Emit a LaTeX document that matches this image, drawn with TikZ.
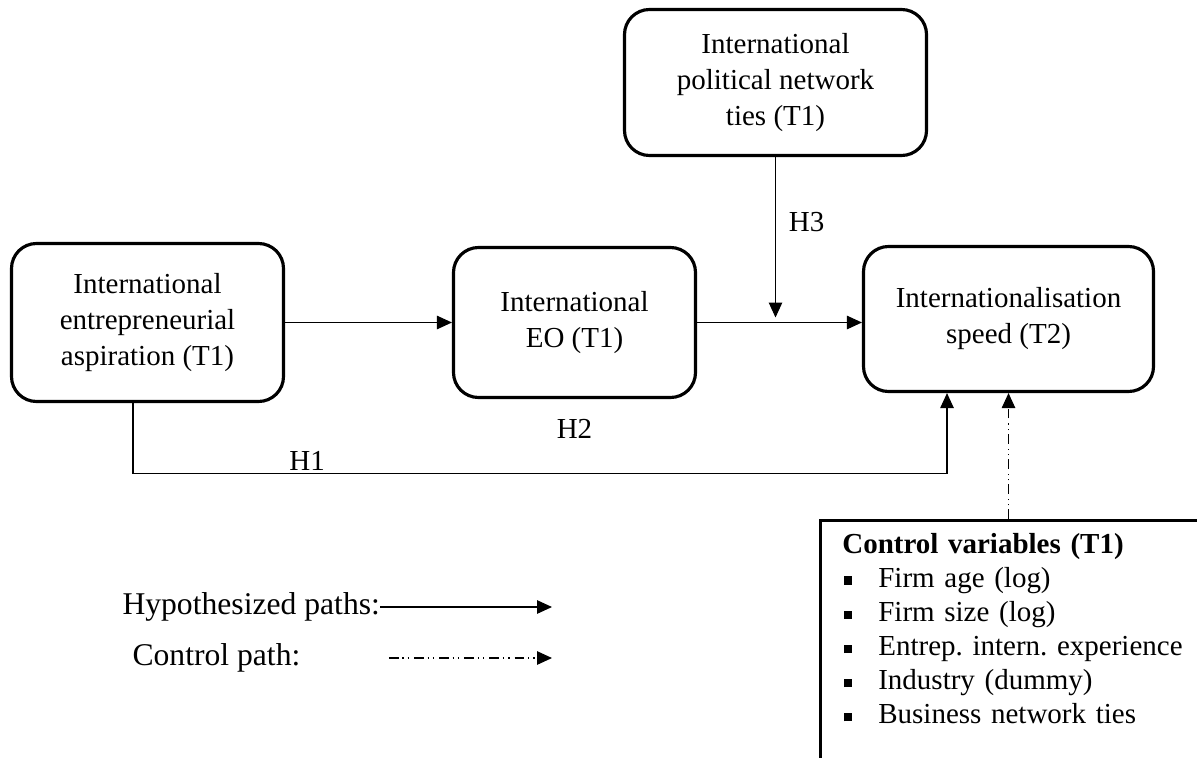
\documentclass[tikz,border=0pt]{standalone}
\usepackage{fontspec}
\setmainfont{Liberation Serif}
\usetikzlibrary{positioning,calc,arrows.meta}
\newcommand{\ctrlitem}{\makebox[0.72cm][l]{\hspace{0.03cm}\rule[1.5pt]{4.8pt}{4.8pt}}}

\begin{document}
\frenchspacing
\begin{tikzpicture}[auto,
  >={Triangle[length=0.3cm,width=0.27cm]},
  line width=0.6pt,
  font=\fontsize{16.5}{20.5}\selectfont,
  construct/.style={draw,line width=1.8pt,rounded corners=0.5cm,align=center,inner sep=0pt},
  controlpath/.style={dash pattern=on 5.5pt off 2.2pt on 0.8pt off 2.2pt on 0.8pt off 2.8pt},
  legend/.style={font=\fontsize{18}{21}\selectfont,inner sep=0pt}]
  \path[use as bounding box,clip] (0,0) rectangle (23.94,15.14);
  % constructs
  \node[construct,minimum width=5.44cm,minimum height=3.16cm] (asp) at (2.95,8.69) {International\\entrepreneurial\\aspiration (T1)};
  \node[construct,minimum width=4.84cm,minimum height=3.0cm] (eo) at (11.49,8.69) {International\\EO (T1)};
  \node[construct,minimum width=6.04cm,minimum height=2.92cm] (pol) at (15.51,13.49) {International\\political network\\ties (T1)};
  \node[construct,minimum width=5.8cm,minimum height=2.9cm] (speed) at (20.17,8.76) {Internationalisation\\speed (T2)};
  \node (h2) [below=0.27cm of eo] {H2};
  % controls
  \node[draw,line width=1.5pt,anchor=north west,align=left,text width=9cm,text depth=7cm,
    inner xsep=0.44cm,inner ysep=0.26cm,font=\fontsize{16.5}{19.4}\selectfont] (ctrl) at (16.38,4.76)
    {\textbf{Control variables (T1)}\\
     \ctrlitem Firm age (log)\\
     \ctrlitem Firm size (log)\\
     \ctrlitem Entrep. intern. experience\\
     \ctrlitem Industry (dummy)\\
     \ctrlitem Business network ties};
  \coordinate (h3end) at ($(pol.south |- eo.east)+(0,0.1)$);
  % paths
  \draw[->] (asp) -- (eo);
  \draw[->] (eo) -- (eo -| speed.west);
  \draw[->] (pol) -- node[right=0.14cm,pos=0.405] {H3} (h3end);
  \draw[->] ([xshift=-0.29cm]asp.south) -- ++(0,-1.4)
    -| node[above,pos=0.107,inner sep=1pt] {H1} ([xshift=-1.23cm]speed.south);
  \draw[->,controlpath] (speed.south |- ctrl.north) -- (speed);
  % legend
  \node[legend,anchor=west] (hyp) at (2.44,3.0) {Hypothesized paths:};
  \node[legend,anchor=west] (ctl) at (2.64,1.98) {Control path:};
  \coordinate (hypend) at (11.04,3.0);
  \draw[->] (hyp) -- (hypend);
  \draw[->,controlpath] ([xshift=1.76cm]ctl.east) -- (ctl.east -| hypend);
\end{tikzpicture}
\end{document}
